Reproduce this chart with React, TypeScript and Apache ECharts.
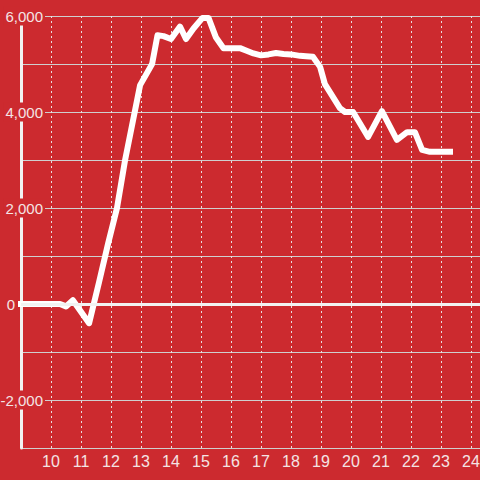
import React, { useEffect, useRef } from "react";
import * as echarts from "echarts";

const hours = [
  8.87, 10.3, 10.5, 10.73, 11.27, 11.6, 11.9, 12.2, 12.47, 12.97, 13.37,
  13.55, 13.75, 14.0, 14.3, 14.5, 14.75, 15.05, 15.25, 15.5, 15.75, 16.05, 16.3,
  16.5, 16.75, 17.0, 17.25, 17.5, 17.75, 18.0, 18.3, 18.5, 18.73, 18.97, 19.13,
  19.63, 19.8, 20.07, 20.57, 21.03, 21.53, 21.87, 22.13, 22.37, 22.63, 23.4,
];
const values = [
  0, 0, -50, 80, -400, 450, 1250, 2000, 3000, 4560, 5000,
  5600, 5580, 5520, 5780, 5520, 5740, 5960, 5960, 5550, 5330, 5330, 5330,
  5280, 5220, 5180, 5200, 5230, 5210, 5200, 5170, 5160, 5150, 4940, 4580,
  4080, 4000, 4000, 3480, 4020, 3420, 3580, 3580, 3210, 3170, 3170,
];
const xTicks = [10, 11, 12, 13, 14, 15, 16, 17, 18, 19, 20, 21, 22, 23, 24];
const yLabels = [-2000, 0, 2000, 4000, 6000];

const BG = "#cc2a2f";
const TXT = "#f4e4e4";
const FONT = "'Liberation Sans', Arial, sans-serif";

export default function App() {
  const ref = useRef<HTMLDivElement>(null);
  useEffect(() => {
    if (!ref.current) return;
    const chart = echarts.init(ref.current, null, { renderer: "svg" });
    const data = hours.map((h, i) => [h, values[i]]);
    chart.setOption({
      animation: false,
      backgroundColor: BG,
      textStyle: { fontFamily: FONT },
      grid: {
        left: 21,
        top: 16,
        width: 480,
        height: 432,
        containLabel: false,
        outerBoundsMode: "none",
      },
      xAxis: {
        type: "value",
        min: 9,
        max: 25,
        interval: 1,
        axisLine: { show: false },
        axisTick: { show: false },
        axisLabel: {
          color: TXT,
          fontSize: 16,
          fontFamily: FONT,
          margin: 5,
          formatter: (v: number) => (xTicks.includes(v) ? String(v) : ""),
        },
        splitLine: {
          show: true,
          lineStyle: { color: "#e8e0e0", width: 1, type: [2, 3] },
        },
      },
      yAxis: [
        {
          type: "value",
          min: -3000,
          max: 6000,
          interval: 1000,
          axisLine: { show: true, onZero: false, lineStyle: { color: "#f2f2f2", width: 3 } },
          axisTick: { show: false },
          axisLabel: { show: false },
          splitLine: { show: true, lineStyle: { color: "#cfcfcf", width: 1 } },
        },
        {
          type: "value",
          position: "left",
          min: -3000,
          max: 6000,
          interval: 1000,
          axisLine: { show: false },
          axisTick: { show: false },
          splitLine: { show: false },
          axisLabel: {
            margin: -24,
            color: TXT,
            fontSize: 15,
            fontFamily: FONT,
            formatter: (v: number) => {
              if (!yLabels.includes(v)) return "";
              if (v === 0) return "{z|0}";
              return "{a|" + v.toLocaleString("en-US") + "}";
            },
            rich: {
              a: { backgroundColor: BG, padding: [2, 2, 2, 2], color: TXT, fontSize: 15, fontFamily: FONT },
              z: { padding: [0, 30, 0, 0], color: TXT, fontSize: 15, fontFamily: FONT },
            },
          },
        },
      ],
      series: [
        {
          type: "line",
          yAxisIndex: 0,
          data,
          symbol: "none",
          clip: false,
          lineStyle: { color: "#ffffff", width: 6, join: "round" },
          markLine: {
            silent: true,
            symbol: "none",
            label: { show: false },
            lineStyle: { color: "#f2f2f2", width: 3, type: "solid" },
            data: [{ yAxis: 0 }],
          },
        },
      ],
    });
    return () => chart.dispose();
  }, []);
  return (
    <div
      ref={ref}
      style={{ position: "absolute", left: 0, top: 0, width: 480, height: 480 }}
    />
  );
}
